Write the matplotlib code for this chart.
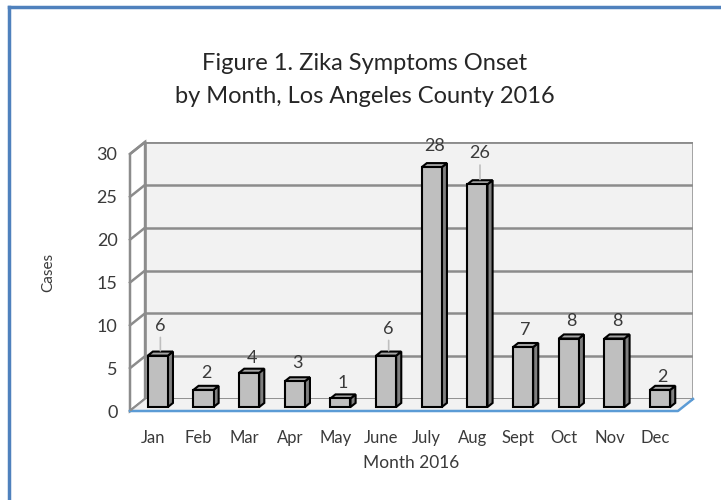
import matplotlib.pyplot as plt
from matplotlib.patches import Polygon
from matplotlib.lines import Line2D

# -------------------------------------------
# data
months = ['Jan', 'Feb', 'Mar', 'Apr', 'May', 'June',
          'July', 'Aug', 'Sept', 'Oct', 'Nov', 'Dec']
cases = [6, 2, 4, 3, 1, 6, 28, 26, 7, 8, 8, 2]
y_ticks = [0, 5, 10, 15, 20, 25, 30]

# how far each value label centre sits above its bar (pixels)
label_lift = [28, 15, 13, 16, 13, 25, 19, 29, 15, 15, 15, 11]

# -------------------------------------------
# fake 3d: depth z in [0,1] moves a point right and up
DX = 0.33   # category units
DY = 1.4    # value units
Z_FRONT, Z_BACK = 0.33, 0.67
BAR_W = 0.44

def P(x, y, z):
    return (x + z * DX, y + z * DY)

plt.rcParams['font.family'] = ['Lato', 'DejaVu Sans']
text_col = '#3a3a3a'
grid_col = '#8c8c8c'
blue = '#5b9bd5'

fig = plt.figure(figsize=(7.21, 5), dpi=100)
ax = fig.add_axes([130 / 721, 89 / 500, 563 / 721, 269 / 500])
ax.set_xlim(-0.5, 11.5 + DX)
ax.set_ylim(0, 30 + DY)
for s in ax.spines.values():
    s.set_visible(False)

x0, x1 = -0.5, 11.5
# back wall
ax.add_patch(Polygon([P(x0, 0, 1), P(x1, 0, 1), P(x1, 30, 1), P(x0, 30, 1)],
                     closed=True, fc='#f2f2f2', ec=grid_col, lw=1.8, zorder=0))
# left wall
ax.add_patch(Polygon([P(x0, 0, 0), P(x0, 0, 1), P(x0, 30, 1), P(x0, 30, 0)],
                     closed=True, fc='white', ec=grid_col, lw=1.8, zorder=0, clip_on=False))
for t in y_ticks:
    xa, ya = P(x0, t, 1)
    xb, yb = P(x1, t, 1)
    ax.plot([xa, xb], [ya, yb], color=grid_col, lw=1.8, zorder=0.5)
    xc, yc = P(x0, t, 0)
    ax.plot([xc, xa], [yc, ya], color=grid_col, lw=1.8, zorder=0.5, clip_on=False)
# floor
ax.add_patch(Polygon([P(x0, 0, 0), P(x1, 0, 0), P(x1, 0, 1), P(x0, 0, 1)],
                     closed=True, fc='#f2f2f2', ec='none', zorder=0.6, clip_on=False))
fx = [P(x0, 0, 0)[0], P(x1, 0, 0)[0], P(x1, 0, 1)[0]]
fy = [P(x0, 0, 0)[1], P(x1, 0, 0)[1], P(x1, 0, 1)[1]]
ax.plot(fx, fy, color=blue, lw=1.8, zorder=0.7, clip_on=False)
ax.plot([P(x0, 0, 0)[0], P(x0, 0, 1)[0]], [0, DY], color=grid_col, lw=1.2, zorder=0.7)

# bars: front faces through ax.bar, side and top as polygons
pos = list(range(len(months)))
front_x = [p + Z_FRONT * DX for p in pos]
ax.bar(front_x, cases, width=BAR_W, bottom=Z_FRONT * DY,
       color='#bfbfbf', edgecolor='black', linewidth=1.5, zorder=3)
for p, v, lift in zip(pos, cases, label_lift):
    l, r = p - BAR_W / 2, p + BAR_W / 2
    side = [P(r, 0, Z_FRONT), P(r, 0, Z_BACK), P(r, v, Z_BACK), P(r, v, Z_FRONT)]
    top = [P(l, v, Z_FRONT), P(r, v, Z_FRONT), P(r, v, Z_BACK), P(l, v, Z_BACK)]
    ax.add_patch(Polygon(side, closed=True, fc='#7f7f7f', ec='black', lw=1.5, zorder=2.9))
    ax.add_patch(Polygon(top, closed=True, fc='#a6a6a6', ec='black', lw=1.5, zorder=2.9))
    # value label, leader line when far from the bar
    cx, cy = P(p, v, 0.5)
    ax.annotate(str(v), (cx, cy), xytext=(0, lift * 0.72), textcoords='offset points',
                ha='center', va='center', fontsize=13, color=text_col, zorder=5)
    if lift > 20:
        ax.annotate('', (cx, cy), xytext=(0, (lift - 9) * 0.72), textcoords='offset points',
                    arrowprops=dict(arrowstyle='-', color='#bfbfbf', lw=1.2), zorder=4)

ax.set_xticks(pos)
ax.set_xticklabels(months)
ax.set_yticks(y_ticks)
ax.tick_params(axis='x', length=0, pad=14, labelsize=12, labelcolor=text_col)
ax.tick_params(axis='y', length=0, pad=9, labelsize=13, labelcolor=text_col)
ax.set_xlabel('Month 2016', fontsize=12.5, color=text_col, labelpad=6)
fig.text(48 / 721, 1 - 272 / 500, 'Cases', rotation=90, ha='center', va='center',
         fontsize=11, color=text_col)

fig.text(365 / 721, 1 - 80 / 500, 'Figure 1. Zika Symptoms Onset\nby Month, Los Angeles County 2016',
         ha='center', va='center', fontsize=17, color='#262626', linespacing=1.75)

# blue frame on the top and left edges
fig.add_artist(Line2D([9 / 721, 9 / 721], [0, 1 - 7 / 500], transform=fig.transFigure,
                      color='#4f81bd', lw=2.5))
fig.add_artist(Line2D([9 / 721, 1], [1 - 7 / 500, 1 - 7 / 500], transform=fig.transFigure,
                      color='#4f81bd', lw=2.5))

fig.savefig('out.png', dpi=100)
